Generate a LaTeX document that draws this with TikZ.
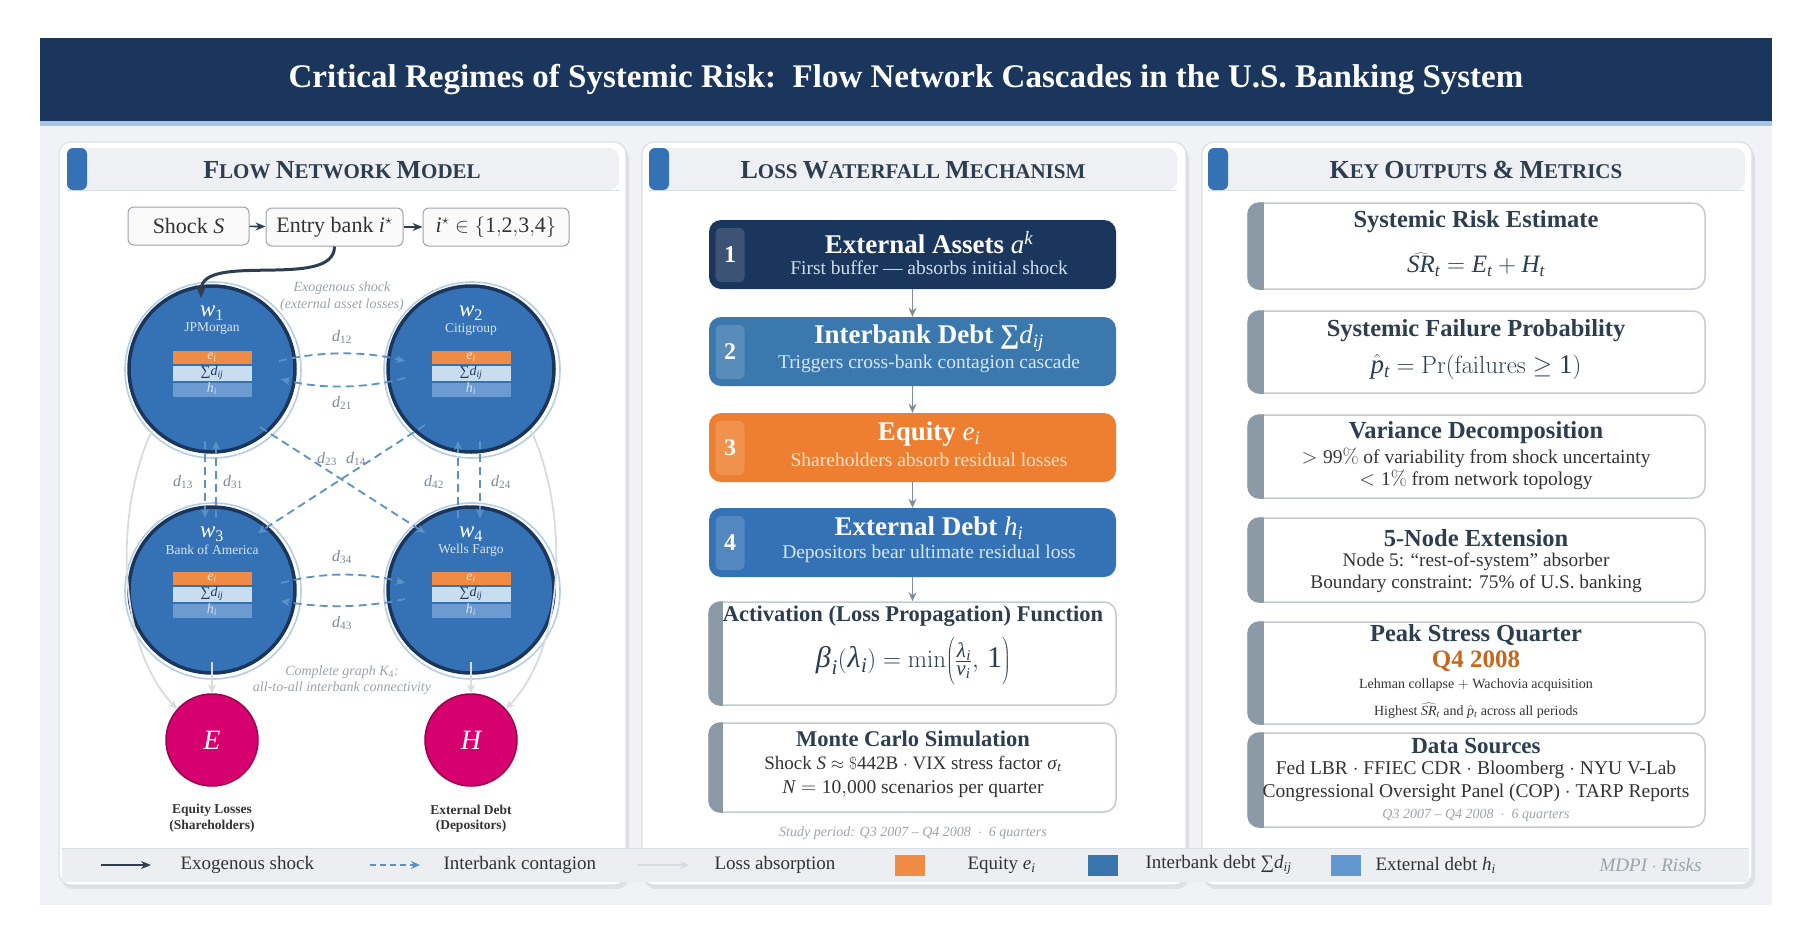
\documentclass[tikz,border=0pt]{standalone}
\usepackage{mathspec}
\setmainfont{Liberation Serif}
\setmathsfont(Digits,Latin,Greek){Liberation Serif}
\usetikzlibrary{arrows.meta,calc}
\definecolor{navy}{HTML}{1B365D}
\definecolor{stripe}{HTML}{A7C4E5}
\definecolor{bgc}{HTML}{F0F2F5}
\definecolor{panelline}{HTML}{DDE1E6}
\definecolor{hdrfill}{HTML}{EEF0F3}
\definecolor{hdrline}{HTML}{D9DEE4}
\definecolor{tabblue}{HTML}{3572B5}
\definecolor{slate}{HTML}{2C3E50}
\definecolor{nodeblue}{HTML}{3572B5}
\definecolor{ringblue}{HTML}{B5CDE8}
\definecolor{eorange}{HTML}{EF8B45}
\definecolor{dlight}{HTML}{C9DDF0}
\definecolor{hmid}{HTML}{6B9BD0}
\definecolor{dashblue}{HTML}{5A92C8}
\definecolor{absgray}{HTML}{D8DCE0}
\definecolor{magenta}{HTML}{D6006E}
\definecolor{magborder}{HTML}{9E0050}
\definecolor{boxtwo}{HTML}{3B78AE}
\definecolor{boxthree}{HTML}{EE7F30}
\definecolor{boxfour}{HTML}{3572B5}
\definecolor{barg}{HTML}{8C99A6}
\definecolor{boxborder}{HTML}{C5CBD2}
\definecolor{qorange}{HTML}{C8661C}
\definecolor{lblgray}{HTML}{9AA3AD}
\definecolor{dgray}{HTML}{7A8898}
\definecolor{arrowgray}{HTML}{7F8C99}
\definecolor{legbg}{HTML}{ECEEF1}
\definecolor{txt}{HTML}{333333}
\definecolor{lboxline}{HTML}{9AA4AE}
\definecolor{lboxfill}{HTML}{FAFAFA}
\definecolor{sqblue}{HTML}{3A74AD}
\definecolor{sqlight}{HTML}{6397CF}
\definecolor{subone}{HTML}{D0DCEB}
\definecolor{subblue}{HTML}{D6E6F5}
\definecolor{suborange}{HTML}{FFE3CC}
\definecolor{namecol}{HTML}{D6E4F2}
\newcommand\fz[1]{\fontsize{#1}{#1}\selectfont}
\newcommand\SCap[2]{{\fontsize{26}{26}\selectfont #1}{\fontsize{21}{21}\selectfont #2}}
\newcommand\bigLpar{\delimiter67273472 }
\newcommand\bigRpar{\delimiter84054785 }
\newcommand\tallstrut{\vcenter{\hbox{\rule{0pt}{48pt}}}}
\tikzset{
  hdrtext/.style={font=\bfseries\fz{21}, text=slate},
  lbox/.style={draw=lboxline, fill=lboxfill, rounded corners=6, line width=1, font=\fz{22}, text=txt, minimum height=38, inner sep=2},
  darrow/.style={draw=slate, line width=1.6, -{Stealth[length=10,width=8]}},
  shockarrow/.style={draw=slate, line width=3, -{Stealth[length=13,width=11]}},
  bank/.style={circle, fill=nodeblue, draw=navy, line width=3.5, minimum size=166, inner sep=0},
  dashar/.style={draw=dashblue, line width=1.8, dash pattern=on 8pt off 5pt, -{Stealth[length=9,width=8]}},
  absarrow/.style={draw=absgray, line width=1.8, -{Stealth[length=9,width=8]}},
  dlbl/.style={font=\fz{16}, text=dgray},
  note/.style={font=\itshape\fz{14}, text=lblgray, inner sep=0.5},
  absorb/.style={circle, fill=magenta, draw=magborder, line width=1.5, minimum size=92, text=white, font=\fz{28}},
  sinklbl/.style={font=\bfseries\fz{13.5}, text=txt, inner sep=0.5},
  wf/.style={rounded corners=12, minimum width=407, minimum height=69, inner sep=0},
  numtab/.style={fill=white, fill opacity=0.15, text opacity=1, rounded corners=5, minimum width=29, minimum height=54, text=white, font=\bfseries\fz{24}, inner sep=0},
  wftitle/.style={font=\bfseries\fz{27}, text=white, inner sep=0.5},
  wfsub/.style={font=\fz{19.5}, inner sep=0.5},
  wbox/.style={draw=boxborder, fill=white, line width=1.5, rounded corners=12, inner sep=0},
  wtitle/.style={font=\bfseries\fz{22.5}, text=slate, inner sep=0.5},
  rtitle/.style={font=\bfseries\fz{24.5}, text=slate, inner sep=0.5},
  rtext/.style={font=\fz{18}, text=txt, inner sep=0.5},
  legtext/.style={font=\fz{19}, text=txt, anchor=west},
  legsq/.style={minimum width=30, minimum height=21, inner sep=0},
  flowarrow/.style={draw=arrowgray, line width=1.6, -{Stealth[length=9,width=8]}}
}
\begin{document}
\begin{tikzpicture}[x=1pt,y=-1pt]
\useasboundingbox (0,0) rectangle (1812,945);
\fill[white] (0,0) rectangle (1812,945);
\fill[bgc] (40,121) rectangle (1772,905);
\fill[navy] (40,38) rectangle (1772,121);
\fill[stripe] (40,121) rectangle (1772,126);
\node[font=\bfseries\fz{33}, text=white] (title) at (906,80) {Critical Regimes of Systemic Risk:\ \ Flow Network Cascades in the U.S. Banking System};

% panels
\foreach \a/\b in {59/626, 642/1186, 1202/1752}{
  \fill[black, opacity=0.07, rounded corners=12] (\a+2,146) rectangle (\b+3,889);
  \filldraw[fill=white, draw=panelline, line width=1.2, rounded corners=12] (\a,142) rectangle (\b,885);
}
\foreach \a/\b in {67/619, 649/1177, 1208/1745}{
  \fill[hdrfill, rounded corners=10] (\a,148) rectangle (\b,190);
  \draw[hdrline, line width=1] (\a,190.5) -- (\b,190.5);
  \fill[tabblue, rounded corners=6] (\a,148) rectangle (\a+20,190);
}
\node[hdrtext] (h1) at (342,170) {\SCap{F}{LOW} \SCap{N}{ETWORK} \SCap{M}{ODEL}};
\node[hdrtext] (h2) at (913,170) {\SCap{L}{OSS} \SCap{W}{ATERFALL} \SCap{M}{ECHANISM}};
\node[hdrtext] (h3) at (1476,170) {\SCap{K}{EY} \SCap{O}{UTPUTS} {\fontsize{26}{26}\selectfont\&} \SCap{M}{ETRICS}};

% ---------- left panel
\node[lbox, minimum width=121] (shock) at (188.5,226) {Shock $S$};
\node[lbox, minimum width=137] (entry) at (334.5,227) {Entry bank $i^{\star}$};
\node[lbox, minimum width=146] (iset) at (496,227) {$i^{\star}\in\{1{,}2{,}3{,}4\}$};
\draw[darrow] (shock) -- (entry);
\draw[darrow] (entry) -- (iset);

\foreach \n/\x/\y/\nm in {1/212/369/JPMorgan, 2/471/369/Citigroup, 3/212/590/Bank of America, 4/471/590/Wells Fargo}{
  \draw[ringblue, line width=1.6] (\x+1,\y+1) circle[radius=88];
  \node[bank] (w\n) at (\x,\y) {};
  \node[font=\fz{23}, text=white] (wl\n) at (\x,\y-56) {$w_{\n}$};
  \node[font=\fz{13.5}, text=namecol] (wn\n) at (\x,\y-40) {\nm};
  \fill[eorange] (\x-39.5,\y-18) rectangle (\x+39.5,\y-5);
  \fill[dlight] (\x-39.5,\y-3) rectangle (\x+39.5,\y+12);
  \fill[hmid] (\x-39.5,\y+14) rectangle (\x+39.5,\y+28);
  \node[font=\fz{14}, text=suborange, inner sep=0] (be\n) at (\x,\y-12) {$e_i$};
  \node[font=\fz{14}, text=navy, inner sep=0] (bd\n) at (\x,\y+4) {∑$d_{ij}$};
  \node[font=\fz{14}, text=namecol, inner sep=0] (bh\n) at (\x,\y+20) {$h_i$};
}

\draw[shockarrow] (entry.south) .. controls ($(entry.south)+(0,44)$) and ($(w1)+(-11,-118)$) .. ($(w1)+(-11,-71)$);
\node[note] (exo1) at (342,288) {Exogenous shock};
\node[note] (exo2) at (342,305) {(external asset losses)};

% interbank contagion
\draw[dashar] ($(w1)+(67,-8)$) .. controls (320,351) and (364,351) .. ($(w2)+(-66,-8)$);
\draw[dashar] ($(w2)+(-66,9)$) .. controls (364,389) and (320,389) .. ($(w1)+(69,10)$);
\draw[dashar] ($(w3)+(69,-7)$) .. controls (322,572) and (364,572) .. ($(w4)+(-66,-7)$);
\draw[dashar] ($(w4)+(-66,9)$) .. controls (364,608) and (322,608) .. ($(w3)+(69,11)$);
\draw[dashar] ($(w1)+(-7,72)$) -- ($(w3)+(-7,-72)$);
\draw[dashar] ($(w3)+(4,-72)$) -- ($(w1)+(4,72)$);
\draw[dashar] ($(w4)+(-13,-72)$) -- ($(w2)+(-13,72)$);
\draw[dashar] ($(w2)+(9,72)$) -- ($(w4)+(9,-72)$);
\draw[dashar] ($(w1)+(48,58)$) -- ($(w4)+(-46,-57)$);
\draw[dashar] ($(w2)+(-46,56)$) -- ($(w3)+(46,-57)$);
\node[dlbl] (l12) at (342,337) {$d_{12}$};
\node[dlbl] (l21) at (342,403) {$d_{21}$};
\node[dlbl] (l34) at (342,557) {$d_{34}$};
\node[dlbl] (l43) at (342,623) {$d_{43}$};
\node[dlbl] (l13) at (183,482) {$d_{13}$};
\node[dlbl] (l31) at (233,482) {$d_{31}$};
\node[dlbl] (l42) at (434,482) {$d_{42}$};
\node[dlbl] (l24) at (501,482) {$d_{24}$};
\node[dlbl] (l23) at (327,459) {$d_{23}$};
\node[dlbl] (l14) at (356,459) {$d_{14}$};

% sinks
\node[absorb] (E) at (212,740) {$E$};
\node[absorb] (H) at (471,740) {$H$};
\draw[absarrow] ($(w3)+(0,72)$) -- (E.north);
\draw[absarrow] ($(w4)+(0,72)$) -- (H.north);
\draw[absarrow] ($(w1)+(-60,62)$) .. controls (118,500) and (112,640) .. ($(E)+(-35,-31)$);
\draw[absarrow] ($(w2)+(60,62)$) .. controls (565,500) and (571,640) .. ($(H)+(35,-31)$);
\node[note] (k4a) at (342,672) {Complete graph $K_4$:};
\node[note] (k4b) at (342,688) {all-to-all interbank connectivity};
\node[sinklbl] (el1) at (212,810) {Equity Losses};
\node[sinklbl] (el2) at (212,826) {(Shareholders)};
\node[sinklbl] (hl1) at (471,810) {External Debt};
\node[sinklbl] (hl2) at (471,826) {(Depositors)};

% ---------- middle panel
\node[wf, fill=navy] (b1) at (912.5,254.5) {};
\node[wf, fill=boxtwo] (b2) at (912.5,351.5) {};
\node[wf, fill=boxthree] (b3) at (912.5,447.5) {};
\node[wf, fill=boxfour] (b4) at (912.5,542.5) {};
\node[numtab] (t1) at (730,255) {1};
\node[numtab] (t2) at (730,352) {2};
\node[numtab] (t3) at (730,448) {3};
\node[numtab] (t4) at (730,543) {4};
\node[wftitle] (bt1) at (929,243) {External Assets $a^{k}$};
\node[wfsub, text=subone] (bs1) at (929,268) {First buffer --- absorbs initial shock};
\node[wftitle] (bt2) at (929,338) {Interbank Debt ∑$d_{ij}$};
\node[wfsub, text=subblue] (bs2) at (929,364) {Triggers cross-bank contagion cascade};
\node[wftitle] (bt3) at (929,434) {Equity $e_i$};
\node[wfsub, text=suborange] (bs3) at (929,460) {Shareholders absorb residual losses};
\node[wftitle] (bt4) at (929,528) {External Debt $h_i$};
\node[wfsub, text=subblue] (bs4) at (929,554) {Depositors bear ultimate residual loss};
\draw[flowarrow] (b1.south) -- (b2.north);
\draw[flowarrow] (b2.south) -- (b3.north);
\draw[flowarrow] (b3.south) -- (b4.north);

\node[wbox, minimum width=407, minimum height=103] (act) at (912.5,653.5) {};
\node[wbox, minimum width=407, minimum height=89] (mc) at (912.5,767.5) {};
\draw[flowarrow] (b4.south) -- (act.north);

% ---------- right panel
\node[wbox, minimum width=457, minimum height=86] (r1) at (1476.5,246) {};
\node[wbox, minimum width=457, minimum height=82] (r2) at (1476.5,352) {};
\node[wbox, minimum width=457, minimum height=83] (r3) at (1476.5,456.5) {};
\node[wbox, minimum width=457, minimum height=84] (r4) at (1476.5,560) {};
\node[wbox, minimum width=457, minimum height=102] (r5) at (1476.5,673) {};
\node[wbox, minimum width=457, minimum height=94] (r6) at (1476.5,780) {};

\foreach \b/\w in {act/15, mc/15, r1/17, r2/17, r3/17, r4/17, r5/17, r6/17}{
  \begin{scope}
    \clip[rounded corners=12] (\b.north west) rectangle (\b.south east);
    \fill[barg] (\b.north west) rectangle ($(\b.south west)+(\w,0)$);
  \end{scope}
}

\node[wtitle] (at1) at (913,616) {Activation (Loss Propagation) Function};
\node[font=\fz{30}, text=slate, inner sep=0.5] (af) at (913,661) {$\beta_i(\lambda_i)=\min\!\left\bigLpar\tallstrut\frac{\lambda_i}{v_i},\,1\right\bigRpar$};
\node[wtitle] (mt1) at (913,739) {Monte Carlo Simulation};
\node[font=\fz{19}, text=txt, inner sep=0.5] (mt2) at (913,764) {Shock $S\approx\$442$B $\cdot$ VIX stress factor $\sigma_t$};
\node[font=\fz{19.5}, text=txt, inner sep=0.5] (mt3) at (913,789) {$N=10{,}000$ scenarios per quarter};
\node[note] (sp) at (913,833) {Study period: Q3 2007 -- Q4 2008 \ $\cdot$ \ 6 quarters};

\node[rtitle] (rt1) at (1476,222) {Systemic Risk Estimate};
\node[font=\fz{25}, text=slate, inner sep=0.5] (rf1) at (1476,265) {$\widehat{SR}_t = E_t + H_t$};
\node[rtitle] (rt2) at (1476,331) {Systemic Failure Probability};
\node[font=\fz{27}, text=slate, inner sep=0.5] (rf2) at (1476,367) {$\hat{p}_t=\Pr(\mathrm{failures}\geq 1)$};
\node[rtitle] (rt3) at (1476,433) {Variance Decomposition};
\node[rtext, font=\fz{19.5}] (rl3a) at (1476,458) {$>99\%$ of variability from shock uncertainty};
\node[rtext, font=\fz{19.5}] (rl3b) at (1476,480) {$<1\%$ from network topology};
\node[rtitle] (rt4) at (1476,538) {5-Node Extension};
\node[rtext, font=\fz{19.3}] (rl4a) at (1476,562) {Node 5: ``rest-of-system'' absorber};
\node[rtext, font=\fz{19.3}] (rl4b) at (1476,584) {Boundary constraint: 75\% of U.S. banking};
\node[rtitle] (rt5) at (1476,635) {Peak Stress Quarter};
\node[font=\bfseries\fz{25}, text=qorange, inner sep=0.5] (rq5) at (1476,661) {Q4 2008};
\node[rtext, font=\fz{14}] (rl5a) at (1476,685) {Lehman collapse $+$ Wachovia acquisition};
\node[rtext, font=\fz{14}] (rl5b) at (1476,711) {Highest $\widehat{SR}_t$ and $\hat{p}_t$ across all periods};
\node[rtitle, font=\bfseries\fz{23}] (rt6) at (1476,746) {Data Sources};
\node[rtext, font=\fz{19.5}] (rl6a) at (1476,770) {Fed LBR $\cdot$ FFIEC CDR $\cdot$ Bloomberg $\cdot$ NYU V-Lab};
\node[rtext, font=\fz{19.5}] (rl6b) at (1476,793) {Congressional Oversight Panel (COP) $\cdot$ TARP Reports};
\node[note] (rl6c) at (1476,815) {Q3 2007 -- Q4 2008 \ $\cdot$ \ 6 quarters};

% ---------- legend
\fill[legbg] (62,848) rectangle (1749,882);
\draw[hdrline, line width=0.8] (62,848) -- (1749,848);
\coordinate (la1) at (101,865); \coordinate (la2) at (151,865);
\coordinate (lb1) at (370,865); \coordinate (lb2) at (420,865);
\coordinate (lc1) at (637,865); \coordinate (lc2) at (689,865);
\draw[darrow, line width=2.2] (la1) -- (la2);
\draw[dashar, line width=1.6, dash pattern=on 6pt off 4pt] (lb1) -- (lb2);
\draw[absarrow] (lc1) -- (lc2);
\node[legtext] (lt1) at (177,865) {Exogenous shock};
\node[legtext] (lt2) at (440,865) {Interbank contagion};
\node[legtext] (lt3) at (711,865) {Loss absorption};
\node[legsq, fill=eorange] (sq1) at (910,865) {};
\node[legtext] (lt4) at (964,865) {Equity $e_i$};
\node[legsq, fill=sqblue] (sq2) at (1103,865) {};
\node[legtext] (lt5) at (1142,865) {Interbank debt ∑$d_{ij}$};
\node[legsq, fill=sqlight] (sq3) at (1346,865) {};
\node[legtext] (lt6) at (1372,865) {External debt $h_i$};
\node[font=\itshape\fz{19}, text=lblgray, anchor=east] (mdpi) at (1705,865) {MDPI $\cdot$ Risks};
\end{tikzpicture}
\end{document}
